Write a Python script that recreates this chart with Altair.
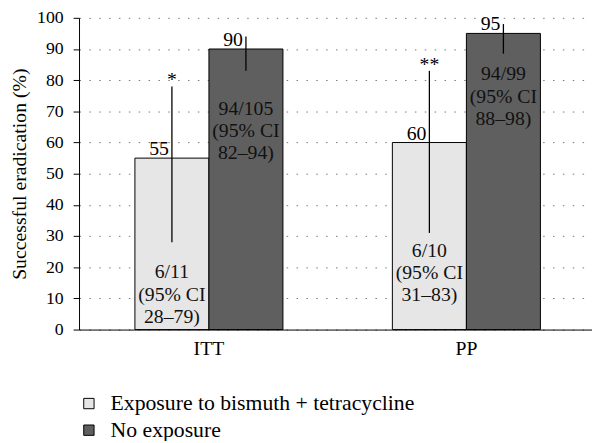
import altair as alt
import pandas as pd

groups = ["ITT", "ITT", "PP", "PP"]
series = ["Exposure to bismuth + tetracycline", "No exposure",
          "Exposure to bismuth + tetracycline", "No exposure"]
values = [55, 90, 60, 95]
ci_low = [28, 83, 31, 88.5]
ci_high = [78, 94, 83, 98]
stars = ["*", "", "**", ""]
inner_text = ["6/11\n(95% CI\n28–79)", "94/105\n(95% CI\n82–94)",
              "6/10\n(95% CI\n31–83)", "94/99\n(95% CI\n88–98)"]
inner_top = [21.5, 74, 28.5, 85]
y_ticks = list(range(0, 101, 10))

series_order = ["Exposure to bismuth + tetracycline", "No exposure"]
colors = ["#e6e6e6", "#5f5f5f"]

df = pd.DataFrame({
    "group": groups, "series": series, "value": values,
    "lo": ci_low, "hi": ci_high, "star": stars,
    "inner": inner_text, "inner_top": inner_top,
    "label": [str(v) for v in values],
})

FONT = "Liberation Serif"
FS = 20
YTITLE = "Successful eradication (%)"

x = alt.X("group:N", sort=["ITT", "PP"], title=None,
          scale=alt.Scale(paddingInner=0.425, paddingOuter=0.2087, align=0.52),
          axis=alt.Axis(labelAngle=0, ticks=False, labelPadding=9, grid=False,
                        labelFontSize=20))
xo = alt.XOffset("series:N", sort=series_order,
                 scale=alt.Scale(paddingInner=0, paddingOuter=0))
yscale = alt.Scale(domain=[0, 100])
yaxis = alt.Axis(values=y_ticks, labelOverlap=False, grid=True, tickSize=6,
                 labelPadding=10, titlePadding=7, labelFontSize=18, titleFontSize=20)


def yenc(field):
    return alt.Y(field, type="quantitative", scale=yscale, axis=yaxis, title=YTITLE)


base = alt.Chart(df)

bars = base.mark_bar(stroke="black", strokeWidth=1, opacity=1).encode(
    x=x, xOffset=xo, y=yenc("value"),
    color=alt.Color("series:N", sort=series_order,
                    scale=alt.Scale(domain=series_order, range=colors),
                    legend=alt.Legend(title=None, orient="none", legendX=-1, legendY=380)),
)

rules = base.mark_rule(color="black", strokeWidth=1.3).encode(
    x=x, xOffset=xo, y=yenc("lo"), y2="hi:Q")

val_text = base.mark_text(font=FONT, fontSize=FS, align="right", baseline="alphabetic",
                          dx=-3, dy=-3, color="black").encode(
    x=x, xOffset=xo, y=yenc("value"), text="label:N")

star_text = base.mark_text(font=FONT, fontSize=FS, align="center", baseline="alphabetic",
                           dy=0, color="black").encode(
    x=x, xOffset=xo, y=yenc("hi"), text="star:N")

inner = base.mark_text(font=FONT, fontSize=FS, align="center", baseline="top",
                       lineBreak="\n", lineHeight=22.5, color="#111").encode(
    x=x, xOffset=xo, y=yenc("inner_top"), text="inner:N")

chart = alt.layer(bars, rules, val_text, star_text, inner).properties(
    width=520, height=316,
    autosize=alt.AutoSizeParams(type="none"),
    padding={"left": 72, "top": 7, "right": 0, "bottom": 110}
).configure_view(stroke=None).configure_axis(
    labelFont=FONT, labelColor="black",
    titleFont=FONT, titleFontWeight="normal", titleColor="black",
    domainColor="black", tickColor="black",
    gridDash=[1.5, 8.5], gridColor="#777", gridWidth=1,
).configure_legend(
    symbolType="square", symbolSize=110, symbolStrokeColor="black",
    symbolStrokeWidth=1, symbolOpacity=1, labelLimit=0,
    labelFont=FONT, labelFontSize=22, labelColor="black",
    rowPadding=5, labelOffset=11,
)

chart.save("out.html", embed_options={"renderer": "svg", "actions": False})
